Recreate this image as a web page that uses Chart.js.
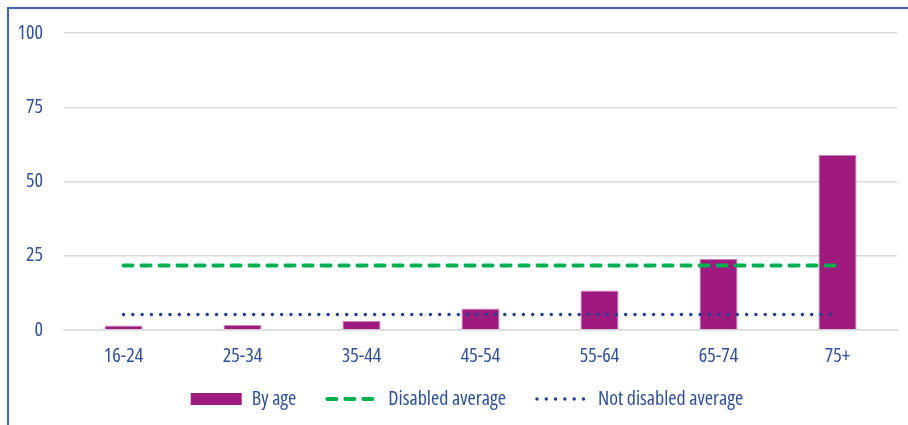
<!DOCTYPE html>
<html>
<head>
<meta charset="utf-8">
<script src="https://cdn.jsdelivr.net/npm/chart.js@4.4.0/dist/chart.umd.min.js"></script>
<style>
  html, body { margin: 0; padding: 0; background: #fff; }
  #wrap { position: relative; width: 908px; height: 425px; overflow: hidden; }
  #frame { position: absolute; left: 7px; top: 7px; width: 1000px; height: 1000px; border: 2px solid #3E62AE; box-sizing: border-box; }
  canvas { position: absolute; left: 0; top: 0; }
</style>
</head>
<body>
<div id="wrap">
  <div id="frame"></div>
  <canvas id="c" width="908" height="425"></canvas>
</div>
<script>
const categories = ['16-24', '25-34', '35-44', '45-54', '55-64', '65-74', '75+'];
const byAge = [1.5, 1.7, 3.0, 7.2, 13.3, 24.0, 59.0];
const disabledAverage = 21.7;
const notDisabledAverage = 5.2;
const yTicks = [0, 25, 50, 75, 100];

const TEXT = '#2F4F9B';
Chart.defaults.font.family = "'Open Sans', 'Roboto Condensed', sans-serif";
Chart.defaults.font.weight = 'condensed';
Chart.defaults.color = TEXT;

const legendNudge = {
  id: 'legendNudge',
  afterLayout(chart) {
    const lg = chart.legend;
    if (!lg) return;
    lg.left += 13.5; lg.right += 13.5;
    lg.top -= 10; lg.bottom -= 10;
  }
};

new Chart(document.getElementById('c'), {
  type: 'bar',
  plugins: [legendNudge],
  data: {
    labels: categories,
    datasets: [
      {
        label: 'By age',
        data: byAge,
        backgroundColor: '#9E1A7E',
        borderColor: '#C98AB9',
        borderWidth: 1,
        barPercentage: 0.32,
        categoryPercentage: 1,
        order: 3
      },
      {
        type: 'line',
        label: 'Disabled average',
        data: categories.map(() => disabledAverage),
        borderColor: '#00B050',
        backgroundColor: '#00B050',
        borderWidth: 4,
        borderDash: [9, 9],
        borderCapStyle: 'round',
        pointRadius: 0,
        fill: false,
        order: 1
      },
      {
        type: 'line',
        label: 'Not disabled average',
        data: categories.map(() => notDisabledAverage),
        borderColor: '#1F3F94',
        backgroundColor: '#1F3F94',
        borderWidth: 3.5,
        borderDash: [0, 9.3],
        borderCapStyle: 'round',
        pointRadius: 0,
        fill: false,
        order: 0
      }
    ]
  },
  options: {
    responsive: false,
    animation: false,
    layout: { padding: { left: 10, right: 11, top: 30, bottom: -4 } },
    scales: {
      x: {
        offset: true,
        grid: { display: false, drawTicks: false },
        border: { display: true, color: '#D9D9D9', width: 1.5 },
        ticks: { font: { size: 20 }, color: TEXT, padding: 14 },
        afterFit(s) { s.height = 38; }
      },
      y: {
        min: 0, max: 100,
        afterBuildTicks(s) { s.ticks = yTicks.map(v => ({ value: v })); },
        grid: { color: '#D9D9D9', lineWidth: 1.5, drawTicks: false },
        border: { display: false },
        ticks: { font: { size: 20 }, color: TEXT, padding: 21 },
        afterFit(s) { s.width = 54; }
      }
    },
    plugins: {
      tooltip: { enabled: false },
      legend: {
        position: 'bottom',
        labels: {
          usePointStyle: true,
          pointStyleWidth: 51,
          boxHeight: 12,
          padding: 31,
          color: TEXT,
          font: { size: 20 },
          sort: (a, b) => a.datasetIndex - b.datasetIndex,
          generateLabels(chart) {
            const items = Chart.defaults.plugins.legend.labels.generateLabels(chart);
            items.forEach(it => {
              const ds = chart.data.datasets[it.datasetIndex];
              if (ds.type === 'line') {
                it.pointStyle = 'line';
                it.lineDash = ds.borderDash;
                it.lineWidth = ds.borderWidth;
                it.lineCap = ds.borderCapStyle;
                it.strokeStyle = ds.borderColor;
              } else {
                it.pointStyle = 'rect';
                it.lineWidth = 0;
                it.fillStyle = ds.backgroundColor;
              }
            });
            return items;
          }
        }
      }
    }
  }
});
</script>
</body>
</html>
